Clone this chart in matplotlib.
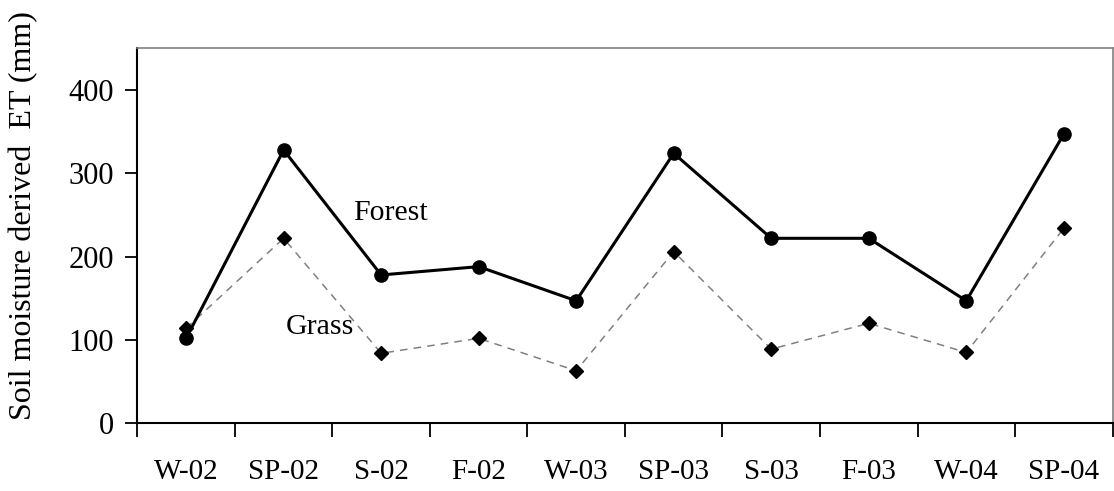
import numpy as np
import matplotlib.pyplot as plt

seasons = ['W-02', 'SP-02', 'S-02', 'F-02', 'W-03', 'SP-03', 'S-03', 'F-03', 'W-04', 'SP-04']
forest = [102, 328, 178, 188, 147, 324, 222, 222, 147, 347]
grass = [114, 222, 84, 102, 63, 206, 89, 120, 85, 234]

plt.rcParams['font.family'] = ['Liberation Serif', 'DejaVu Serif']

fig = plt.figure(figsize=(11.14, 4.91), dpi=100)
ax = fig.add_axes([0.1233, 0.1379, 0.8754, 0.7637])

x = np.arange(len(seasons))
ax.plot(x, grass, color='#808080', lw=1.1, ls=(0, (5, 4)),
        marker='D', ms=7.5, mfc='black', mec='black', zorder=2)
ax.plot(x, forest, color='black', lw=2.2, ls='-',
        marker='o', ms=9.5, mfc='black', mec='black', zorder=3)

ax.text(1.71, 252, 'Forest', fontsize=21.5, va='center', ha='left')
ax.text(1.02, 115, 'Grass', fontsize=21.5, va='center', ha='left')

ax.set_xlim(-0.5, len(seasons) - 0.5)
ax.set_ylim(0, 450)
ax.set_yticks([0, 100, 200, 300, 400])
ax.set_xticks(x)
ax.set_xticklabels(seasons)
ax.set_xticks(np.arange(len(seasons) + 1) - 0.5, minor=True)

ax.tick_params(axis='x', which='major', length=0, pad=26, labelsize=21)
ax.tick_params(axis='x', which='minor', length=10, width=1.3, direction='out')
ax.tick_params(axis='y', length=9, width=1.3, direction='out', pad=8, labelsize=22)

for side in ['top', 'right']:
    ax.spines[side].set_color('#808080')
    ax.spines[side].set_linewidth(1.2)
for side in ['left', 'bottom']:
    ax.spines[side].set_color('black')
    ax.spines[side].set_linewidth(1.5)

fig.text(0.021, 0.145, 'Soil moisture derived  ET (mm)', rotation=90,
         fontsize=23, ha='center', va='bottom')

fig.savefig('out.png', dpi=100)
